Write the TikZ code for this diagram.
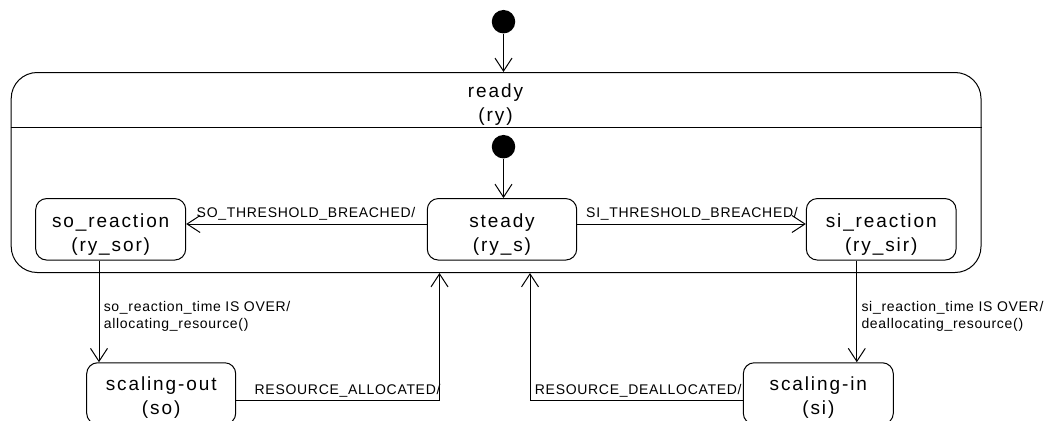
\documentclass[tikz,border=0pt]{standalone}
\usepackage{fontspec}
\usetikzlibrary{arrows.meta}
\newfontfamily\statefamily[LetterSpace=10]{Liberation Sans}
\newfontfamily\lblfamily[LetterSpace=5]{Liberation Sans}
\begin{document}
\begin{tikzpicture}[x=1pt,y=-1pt, line width=1pt,
  arr/.style={-{Straight Barb[length=13pt,width=17pt]}},
  statebox/.style={draw, rounded corners=11pt, minimum width=150pt, minimum height=61.5pt, inner sep=0pt},
  stext/.style={font=\statefamily\fontsize{19}{24}\selectfont, align=center, yshift=-5pt},
  lbl/.style={font=\lblfamily\fontsize{14}{16.6}\selectfont, inner sep=0pt},
  initdot/.style={circle, fill=black, minimum size=23.5pt, inner sep=0pt}]
\useasboundingbox (0,0) rectangle (1062,420);
\clip (0,0) rectangle (1062,420);

% composite state
\node[draw, rounded corners=26pt, minimum width=969.8pt, minimum height=200pt, inner sep=0pt] (ready) at (496.1,172.5) {};
\coordinate (div) at (0,127.3);
\draw (ready.west |- div) -- (ready.east |- div);
\node[font=\statefamily\fontsize{19}{24}\selectfont, align=center, inner sep=0pt] (readyT) at (495.5,105) {ready\\(ry)};

% initial pseudo-states
\node[initdot] (init1) at (503.5,21.7) {};
\node[initdot] (init2) at (503.5,146.7) {};

% states
\node[statebox, label={[stext]center:so\_reaction\\(ry\_sor)}] (sor) at (110.7,229.3) {};
\node[statebox, minimum width=149.4pt, label={[stext]center:steady\\(ry\_s)}] (steady) at (502,229.3) {};
\node[statebox, minimum width=149.7pt, label={[stext]center:si\_reaction\\(ry\_sir)}] (sir) at (881.2,229.3) {};
\node[statebox, minimum width=149pt, label={[stext,yshift=1pt]center:scaling-out\\(so)}] (so) at (161.2,393.5) {};
\node[statebox, label={[stext,yshift=1pt]center:scaling-in\\(si)}] (si) at (818.3,393.5) {};

% helper coordinates
\coordinate (hy) at (0,224);
\coordinate (sox) at (99,0);
\coordinate (six) at (856.8,0);
\coordinate (bot) at (0,400.7);
\coordinate (upa) at (439.5,0);
\coordinate (upb) at (530,0);

% transitions
\draw[arr] (init1) -- (init1 |- ready.north);
\draw[arr] (init2) -- (init2 |- steady.north);
\draw[arr] (steady.west |- hy) -- (sor.east |- hy);
\draw[arr] (steady.east |- hy) -- (sir.west |- hy);
\draw[arr] (sor.south -| sox) -- (so.north -| sox);
\draw[arr] (sir.south -| six) -- (si.north -| six);
\draw[arr] (so.east |- bot) -| (ready.south -| upa);
\draw[arr] (si.west |- bot) -| (ready.south -| upb);

% transition labels
\node[lbl, anchor=base] (l1) at (306,217) {SO\_THRESHOLD\_BREACHED/};
\node[lbl, anchor=base] (l2) at (692,217) {SI\_THRESHOLD\_BREACHED/};
\node[lbl, anchor=base west, align=left] (l3) at (103.3,328.3) {so\_reaction\_time IS OVER/\\allocating\_resource()};
\node[lbl, anchor=base west, align=left] (l4) at (861,328.3) {si\_reaction\_time IS OVER/\\deallocating\_resource()};
\node[lbl, anchor=base east] (l5) at (441,394) {RESOURCE\_ALLOCATED/};
\node[lbl, anchor=base west] (l6) at (534.4,394) {RESOURCE\_DEALLOCATED/};
\end{tikzpicture}
\end{document}
